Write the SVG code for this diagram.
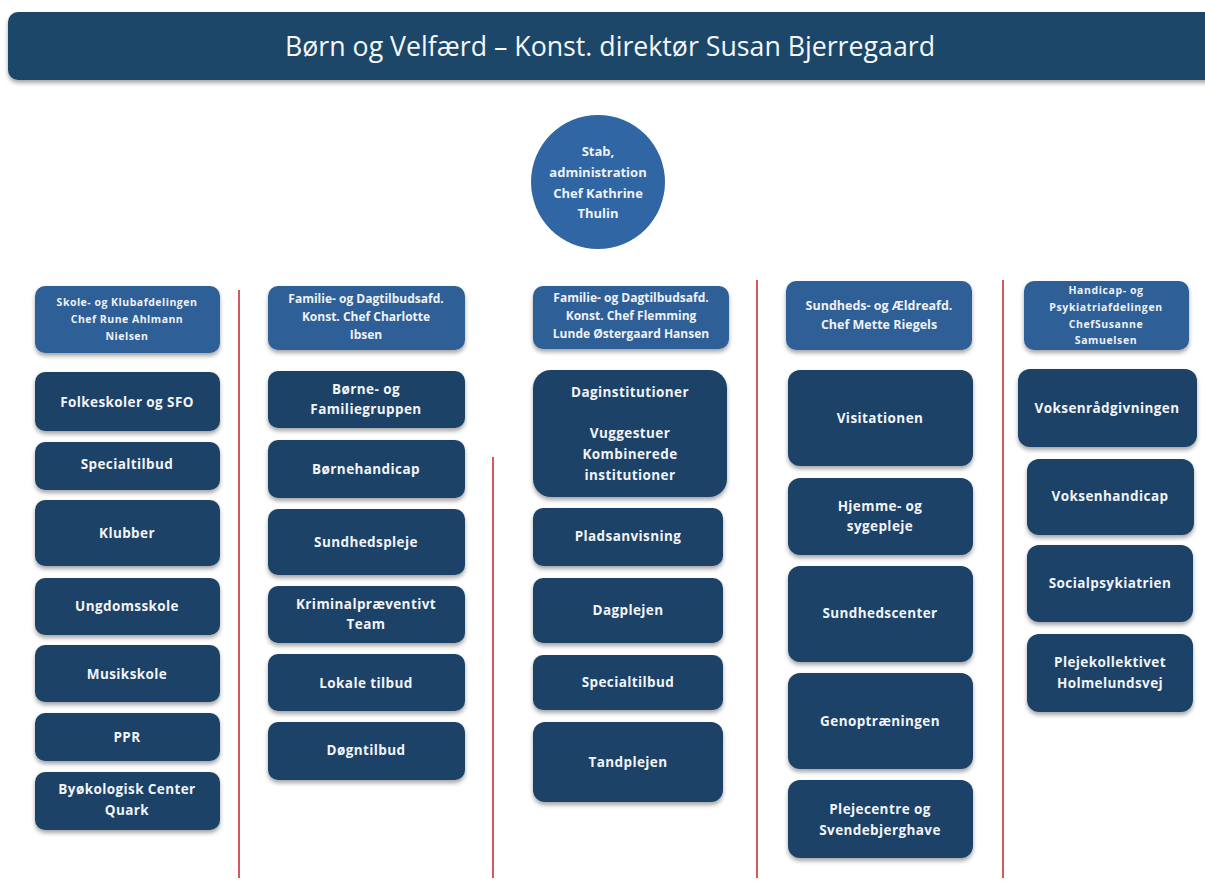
<svg xmlns="http://www.w3.org/2000/svg" width="1205" height="883" viewBox="0 0 1205 883">
<defs>
<filter id="sh" x="-10%" y="-10%" width="120%" height="130%">
<feDropShadow dx="0" dy="3" stdDeviation="2" flood-color="#000" flood-opacity="0.35"/>
</filter>
<style>
.bx{fill:#1d4268;filter:url(#sh)}
.hd{fill:#2e5f96;filter:url(#sh)}
.t{font-family:"Open Sans","Liberation Sans",sans-serif;font-weight:bold;fill:#f2f4f7;text-anchor:middle;font-size:13.5px;letter-spacing:0.4px}
.h{font-family:"Open Sans","Liberation Sans",sans-serif;font-weight:bold;fill:#eef2f7;text-anchor:middle;font-size:11.5px}
.sep{stroke:#c8202a;stroke-width:1.5}
</style>
</defs>
<rect width="1205" height="883" fill="#ffffff"/>

<g id="title">
<rect x="8" y="12" width="1210" height="68" rx="10" fill="#1c4769" filter="url(#sh)"/>
<text x="610" y="56" font-family="Open Sans, Liberation Sans, sans-serif" font-size="27" fill="#f5f7fa" text-anchor="middle" textLength="650" lengthAdjust="spacingAndGlyphs">Børn og Velfærd – Konst. direktør Susan Bjerregaard</text>
</g>

<g id="stab">
<circle cx="598" cy="182" r="67" fill="#2f66a3"/>
<text class="h" font-size="13" style="font-size:13px" x="598" y="156">Stab,</text>
<text class="h" style="font-size:13px" x="598" y="177">administration</text>
<text class="h" style="font-size:13px" x="598" y="198">Chef Kathrine</text>
<text class="h" style="font-size:13px" x="598" y="218">Thulin</text>
</g>

<g id="connectors">
<line class="sep" x1="239" y1="290" x2="239" y2="878"/>
<line class="sep" x1="493" y1="457" x2="493" y2="878"/>
<line class="sep" x1="757" y1="280" x2="757" y2="878"/>
<line class="sep" x1="1003" y1="280" x2="1003" y2="878"/>
</g>

<!-- Column 1 -->
<g id="h1">
<rect class="hd" x="35" y="286" width="185" height="67" rx="10"/>
<text class="h" style="font-size:10.5px;letter-spacing:0.5px" x="127" y="306">Skole- og Klubafdelingen</text>
<text class="h" style="font-size:10.5px;letter-spacing:0.5px" x="127" y="323">Chef Rune Ahlmann</text>
<text class="h" style="font-size:10.5px;letter-spacing:0.5px" x="127" y="340">Nielsen</text>
</g>
<g id="c1b1"><rect class="bx" x="35" y="372" width="185" height="59" rx="10"/><text class="t" x="127" y="407">Folkeskoler og SFO</text></g>
<g id="c1b2"><rect class="bx" x="35" y="442" width="185" height="48" rx="10"/><text class="t" x="127" y="469">Specialtilbud</text></g>
<g id="c1b3"><rect class="bx" x="35" y="500" width="185" height="66" rx="10"/><text class="t" x="127" y="538">Klubber</text></g>
<g id="c1b4"><rect class="bx" x="35" y="578" width="185" height="57" rx="10"/><text class="t" x="127" y="611">Ungdomsskole</text></g>
<g id="c1b5"><rect class="bx" x="35" y="645" width="185" height="57" rx="10"/><text class="t" x="127" y="679">Musikskole</text></g>
<g id="c1b6"><rect class="bx" x="35" y="713" width="185" height="48" rx="10"/><text class="t" x="127" y="742">PPR</text></g>
<g id="c1b7"><rect class="bx" x="35" y="772" width="185" height="58" rx="10"/><text class="t" x="127" y="794">Byøkologisk Center</text><text class="t" x="127" y="815">Quark</text></g>

<!-- Column 2 -->
<g id="h2">
<rect class="hd" x="268" y="286" width="197" height="64" rx="10"/>
<text class="h" style="font-size:12px" x="366" y="303">Familie- og Dagtilbudsafd.</text>
<text class="h" style="font-size:12px" x="366" y="321">Konst. Chef Charlotte</text>
<text class="h" style="font-size:12px" x="366" y="339">Ibsen</text>
</g>
<g id="c2b1"><rect class="bx" x="268" y="371" width="197" height="57" rx="10"/><text class="t" x="366" y="394">Børne- og</text><text class="t" x="366" y="414">Familiegruppen</text></g>
<g id="c2b2"><rect class="bx" x="268" y="440" width="197" height="58" rx="10"/><text class="t" x="366" y="474">Børnehandicap</text></g>
<g id="c2b3"><rect class="bx" x="268" y="509" width="197" height="66" rx="10"/><text class="t" x="366" y="547">Sundhedspleje</text></g>
<g id="c2b4"><rect class="bx" x="268" y="586" width="197" height="57" rx="10"/><text class="t" x="366" y="609">Kriminalpræventivt</text><text class="t" x="366" y="629">Team</text></g>
<g id="c2b5"><rect class="bx" x="268" y="654" width="197" height="57" rx="10"/><text class="t" x="366" y="688">Lokale tilbud</text></g>
<g id="c2b6"><rect class="bx" x="268" y="722" width="197" height="58" rx="10"/><text class="t" x="366" y="755">Døgntilbud</text></g>

<!-- Column 3 -->
<g id="h3">
<rect class="hd" x="533" y="286" width="196" height="63" rx="10"/>
<text class="h" style="font-size:12px" x="631" y="302">Familie- og Dagtilbudsafd.</text>
<text class="h" style="font-size:12px" x="631" y="320">Konst. Chef Flemming</text>
<text class="h" style="font-size:12px" x="631" y="338">Lunde Østergaard Hansen</text>
</g>
<g id="c3b1"><rect class="bx" x="533" y="370" width="194" height="127" rx="18"/><text class="t" x="630" y="397">Daginstitutioner</text><text class="t" x="630" y="438">Vuggestuer</text><text class="t" x="630" y="459">Kombinerede</text><text class="t" x="630" y="480">institutioner</text></g>
<g id="c3b2"><rect class="bx" x="533" y="508" width="190" height="58" rx="10"/><text class="t" x="628" y="541">Pladsanvisning</text></g>
<g id="c3b3"><rect class="bx" x="533" y="578" width="190" height="65" rx="10"/><text class="t" x="628" y="615">Dagplejen</text></g>
<g id="c3b4"><rect class="bx" x="533" y="655" width="190" height="55" rx="10"/><text class="t" x="628" y="687">Specialtilbud</text></g>
<g id="c3b5"><rect class="bx" x="533" y="722" width="190" height="80" rx="12"/><text class="t" x="628" y="767">Tandplejen</text></g>

<!-- Column 4 -->
<g id="h4">
<rect class="hd" x="786" y="281" width="186" height="69" rx="10"/>
<text class="h" style="font-size:12.5px" x="879" y="310">Sundheds- og Ældreafd.</text>
<text class="h" style="font-size:12.5px" x="879" y="329">Chef Mette Riegels</text>
</g>
<g id="c4b1"><rect class="bx" x="788" y="370" width="185" height="96" rx="12"/><text class="t" x="880" y="423">Visitationen</text></g>
<g id="c4b2"><rect class="bx" x="788" y="478" width="185" height="77" rx="12"/><text class="t" x="880" y="511">Hjemme- og</text><text class="t" x="880" y="531">sygepleje</text></g>
<g id="c4b3"><rect class="bx" x="788" y="566" width="185" height="96" rx="12"/><text class="t" x="880" y="618">Sundhedscenter</text></g>
<g id="c4b4"><rect class="bx" x="788" y="673" width="185" height="96" rx="12"/><text class="t" x="880" y="726">Genoptræningen</text></g>
<g id="c4b5"><rect class="bx" x="788" y="780" width="185" height="78" rx="12"/><text class="t" x="880" y="814">Plejecentre og</text><text class="t" x="880" y="835">Svendebjerghave</text></g>

<!-- Column 5 -->
<g id="h5">
<rect class="hd" x="1024" y="281" width="165" height="69" rx="10"/>
<text class="h" style="font-size:10.5px;letter-spacing:0.6px" x="1106" y="294">Handicap- og</text>
<text class="h" style="font-size:10.5px;letter-spacing:0.6px" x="1106" y="311">Psykiatriafdelingen</text>
<text class="h" style="font-size:10.5px;letter-spacing:0.6px" x="1106" y="328">ChefSusanne</text>
<text class="h" style="font-size:10.5px;letter-spacing:0.6px" x="1106" y="344">Samuelsen</text>
</g>
<g id="c5b1"><rect class="bx" x="1018" y="369" width="179" height="78" rx="12"/><text class="t" x="1107" y="413">Voksenrådgivningen</text></g>
<g id="c5b2"><rect class="bx" x="1027" y="459" width="167" height="76" rx="12"/><text class="t" x="1110" y="501">Voksenhandicap</text></g>
<g id="c5b3"><rect class="bx" x="1027" y="545" width="166" height="77" rx="12"/><text class="t" x="1110" y="588">Socialpsykiatrien</text></g>
<g id="c5b4"><rect class="bx" x="1027" y="634" width="166" height="78" rx="12"/><text class="t" x="1110" y="667">Plejekollektivet</text><text class="t" x="1110" y="688">Holmelundsvej</text></g>
</svg>
